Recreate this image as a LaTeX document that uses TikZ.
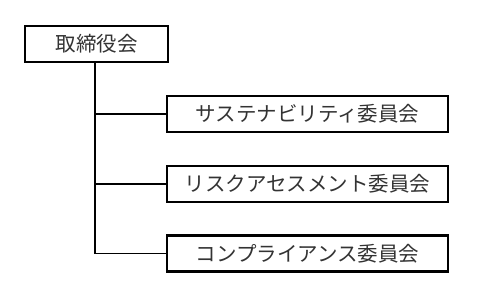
\documentclass[tikz,border=0pt]{standalone}
\usepackage{fontspec}
\newfontfamily\jp{Noto Sans CJK JP}
\begin{document}
\begin{tikzpicture}[x=1pt,y=-1pt,
  orgbox/.style={draw=black, line width=2.8pt, minimum height=36pt, inner sep=0pt,
    font=\jp\fontsize{20.5}{24}\selectfont, text=black!80},
  link/.style={draw=black, line width=1.8pt}]
\useasboundingbox (0,0) rectangle (500,306);
\node[orgbox, minimum width=143pt] (top) at (96.5,44) {取締役会};
\node[orgbox, minimum width=281pt] (c1) at (307.5,114) {サステナビリティ委員会};
\node[orgbox, minimum width=281pt] (c2) at (307.5,184) {リスクアセスメント委員会};
\node[orgbox, minimum width=281pt] (c3) at (307.5,253.5) {コンプライアンス委員会};
\coordinate (s) at (95,62);
\coordinate (b1) at (95,114);
\coordinate (b2) at (95,184);
\coordinate (b3) at (95,253.5);
\draw[link] (top.south -| s) -- (b3) -- (c3.west);
\draw[link] (b1) -- (c1.west);
\draw[link] (b2) -- (c2.west);
\end{tikzpicture}
\end{document}
